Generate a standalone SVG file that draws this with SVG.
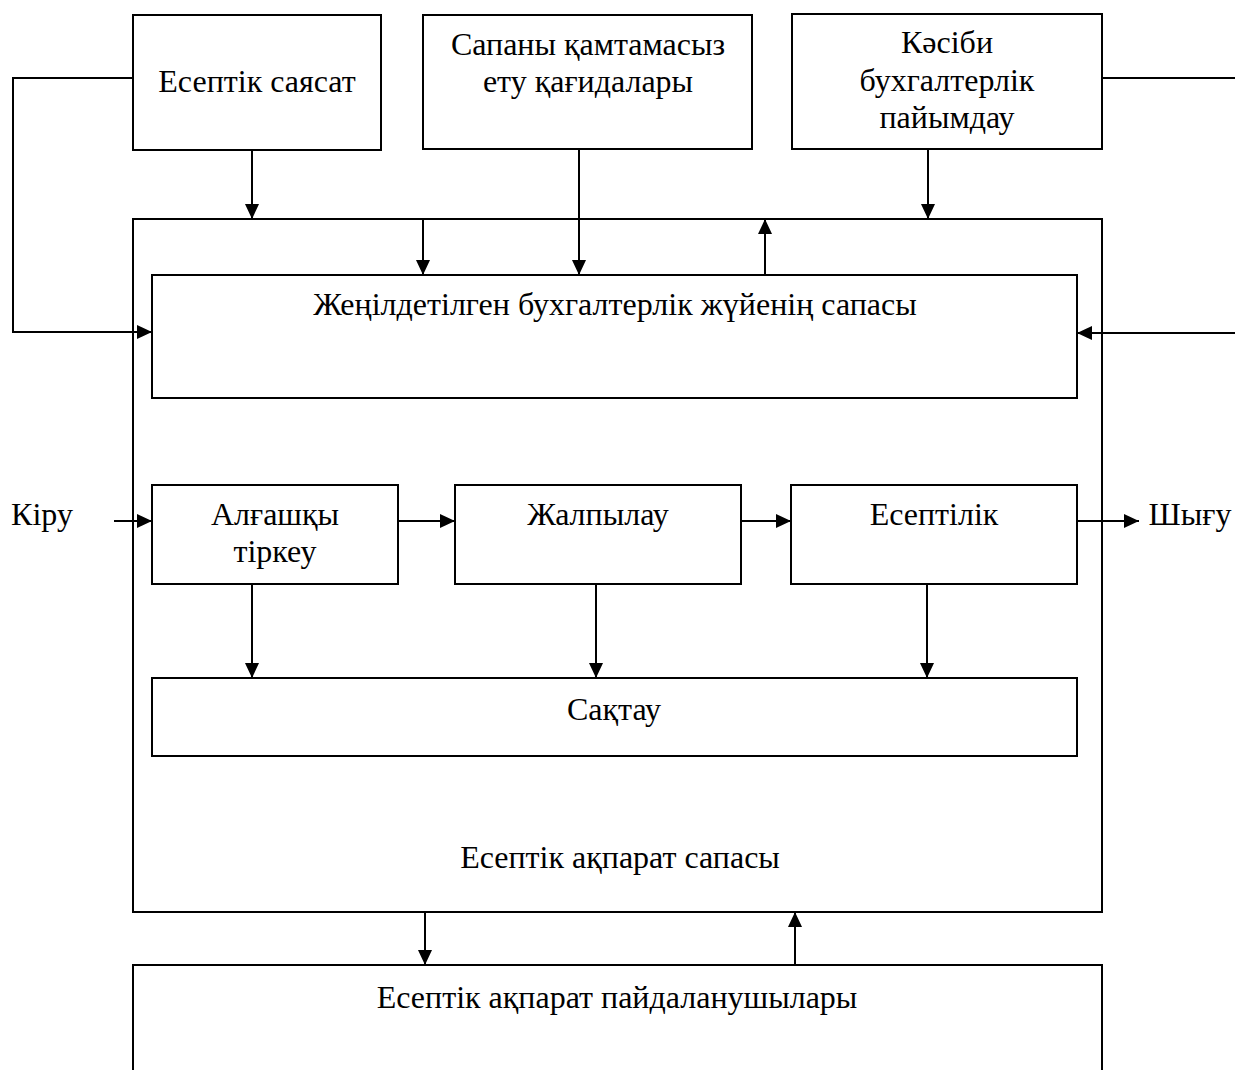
<svg xmlns="http://www.w3.org/2000/svg" width="1235" height="1070" viewBox="0 0 1235 1070">
<defs>
<marker id="ah" markerUnits="userSpaceOnUse" markerWidth="16" markerHeight="14" refX="15" refY="7" orient="auto">
<path d="M0,0 L15,7 L0,14 Z" fill="#000"/>
</marker>
<style>
.b{fill:#fff;stroke:#000;stroke-width:2}
.c line,.c polyline{stroke:#000;stroke-width:2;fill:none}
text{font-family:"Liberation Serif","Times New Roman",serif;font-size:32px;fill:#000;text-anchor:middle}
</style>
</defs>
<rect x="0" y="0" width="1235" height="1070" fill="#fff"/>
<g id="outer"><rect class="b" x="133" y="219" width="969" height="693"/><text x="620" y="868">Есептік ақпарат сапасы</text></g>
<g id="n-policy"><rect class="b" x="133" y="15" width="248" height="135"/><text x="257" y="92">Есептік саясат</text></g>
<g id="n-rules"><rect class="b" x="423" y="15" width="329" height="134"/><text x="588" y="55">Сапаны қамтамасыз</text><text x="588" y="92">ету қағидалары</text></g>
<g id="n-judg"><rect class="b" x="792" y="14" width="310" height="135"/><text x="947" y="53">Кәсіби</text><text x="947" y="91">бухгалтерлік</text><text x="947" y="128">пайымдау</text></g>
<g id="n-quality"><rect class="b" x="152" y="275" width="925" height="123"/><text x="615" y="315">Жеңілдетілген бухгалтерлік жүйенің сапасы</text></g>
<g id="n-primary"><rect class="b" x="152" y="485" width="246" height="99"/><text x="275" y="525">Алғашқы</text><text x="275" y="562">тіркеу</text></g>
<g id="n-gen"><rect class="b" x="455" y="485" width="286" height="99"/><text x="598" y="525">Жалпылау</text></g>
<g id="n-rep"><rect class="b" x="791" y="485" width="286" height="99"/><text x="934" y="525">Есептілік</text></g>
<g id="n-store"><rect class="b" x="152" y="678" width="925" height="78"/><text x="614" y="720">Сақтау</text></g>
<g id="n-users"><rect class="b" x="133" y="965" width="969" height="120"/><text x="617" y="1008">Есептік ақпарат пайдаланушылары</text></g>
<g id="in"><text x="42" y="525">Кіру</text></g>
<g id="out"><text x="1190" y="525">Шығу</text></g>
<g class="c" id="connectors">
<polyline points="133,78 13,78 13,332 152,332" marker-end="url(#ah)"/>
<line x1="1102" y1="78" x2="1235" y2="78"/>
<line x1="1235" y1="333" x2="1077" y2="333" marker-end="url(#ah)"/>
<line x1="252" y1="150" x2="252" y2="219" marker-end="url(#ah)"/>
<line x1="423" y1="219" x2="423" y2="275" marker-end="url(#ah)"/>
<line x1="579" y1="149" x2="579" y2="275" marker-end="url(#ah)"/>
<line x1="765" y1="275" x2="765" y2="219" marker-end="url(#ah)"/>
<line x1="928" y1="149" x2="928" y2="219" marker-end="url(#ah)"/>
<line x1="114" y1="521" x2="152" y2="521" marker-end="url(#ah)"/>
<line x1="398" y1="521" x2="455" y2="521" marker-end="url(#ah)"/>
<line x1="741" y1="521" x2="791" y2="521" marker-end="url(#ah)"/>
<line x1="1077" y1="521" x2="1139" y2="521" marker-end="url(#ah)"/>
<line x1="252" y1="584" x2="252" y2="678" marker-end="url(#ah)"/>
<line x1="596" y1="584" x2="596" y2="678" marker-end="url(#ah)"/>
<line x1="927" y1="584" x2="927" y2="678" marker-end="url(#ah)"/>
<line x1="425" y1="912" x2="425" y2="965" marker-end="url(#ah)"/>
<line x1="795" y1="965" x2="795" y2="912" marker-end="url(#ah)"/>
</g>
</svg>
